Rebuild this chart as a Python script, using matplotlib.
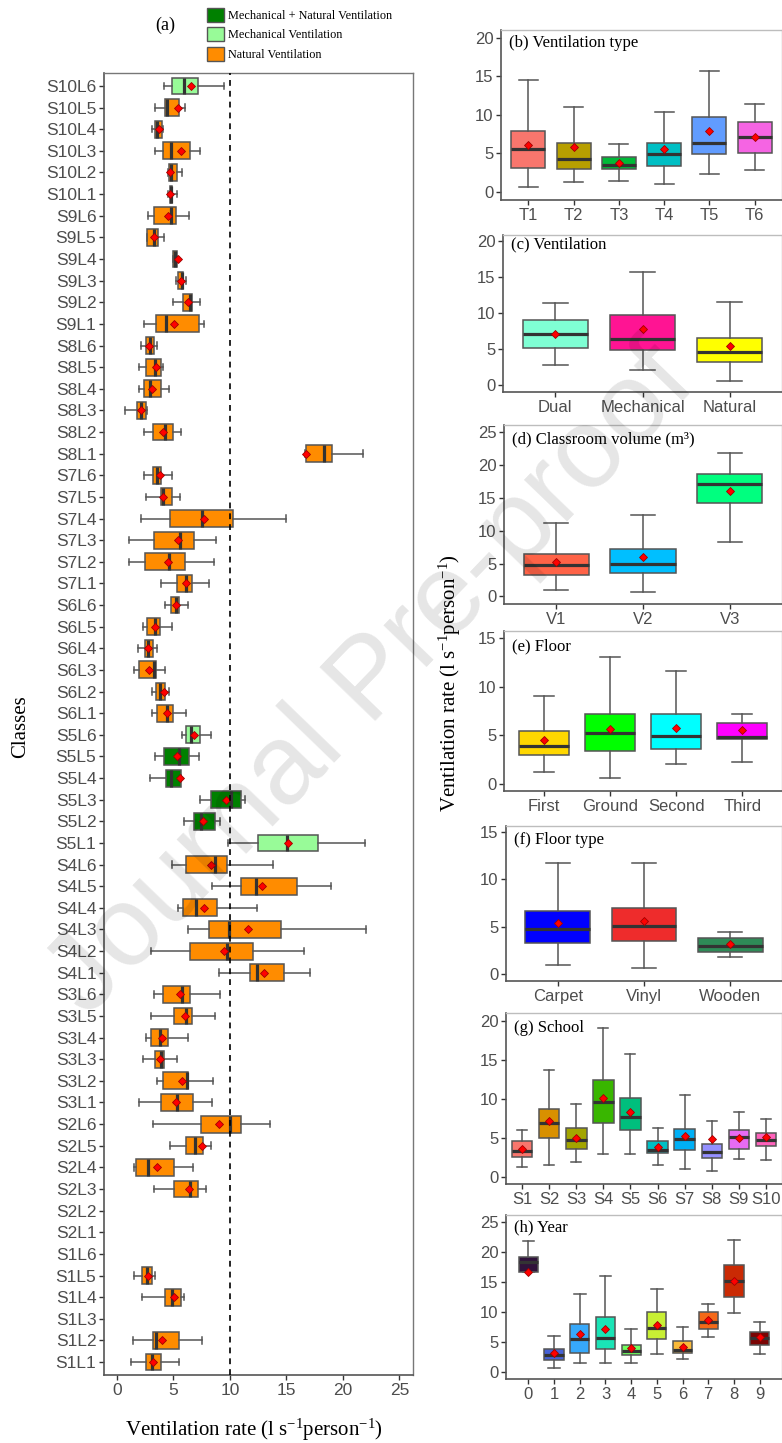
import matplotlib
matplotlib.use('Agg')
import matplotlib.pyplot as plt
from matplotlib.patches import Patch
import numpy as np

plt.rcParams['font.family'] = ['Liberation Sans', 'DejaVu Sans']
plt.rcParams['mathtext.fontset'] = 'custom'
plt.rcParams['mathtext.rm'] = 'Liberation Serif'
plt.rcParams['mathtext.it'] = 'Liberation Serif:italic'

nan = np.nan

# ---- panel (a): ventilation rate per class (top to bottom) ----
classes = ['S10L6', 'S10L5', 'S10L4', 'S10L3', 'S10L2', 'S10L1',
           'S9L6', 'S9L5', 'S9L4', 'S9L3', 'S9L2', 'S9L1',
           'S8L6', 'S8L5', 'S8L4', 'S8L3', 'S8L2', 'S8L1',
           'S7L6', 'S7L5', 'S7L4', 'S7L3', 'S7L2', 'S7L1',
           'S6L6', 'S6L5', 'S6L4', 'S6L3', 'S6L2', 'S6L1',
           'S5L6', 'S5L5', 'S5L4', 'S5L3', 'S5L2', 'S5L1',
           'S4L6', 'S4L5', 'S4L4', 'S4L3', 'S4L2', 'S4L1',
           'S3L6', 'S3L5', 'S3L4', 'S3L3', 'S3L2', 'S3L1',
           'S2L6', 'S2L5', 'S2L4', 'S2L3', 'S2L2', 'S2L1',
           'S1L6', 'S1L5', 'S1L4', 'S1L3', 'S1L2', 'S1L1']
class_vent = ['MV'] + ['NV'] * 29 + ['MV', 'MNV', 'MNV', 'MNV', 'MNV', 'MV'] + ['NV'] * 24
a_low = [4.19, 3.36, 3.07, 3.39, 4.55, 4.54, 2.77, 2.63, 4.97, 5.19, 4.93, 2.36,
         2.12, 1.98, 1.92, 0.74, 2.36, 16.65, 2.36, 2.60, 2.15, 1.09, 1.09, 3.86,
         4.22, 2.33, 1.83, 1.47, 3.07, 3.10, 5.72, 3.36, 2.95, 7.32, 5.96, 9.79,
         4.90, 8.38, 5.43, 6.28, 2.98, 9.03, 3.27, 2.98, 2.57, 2.27, 3.57, 1.92,
         3.22, 4.72, 1.53, 3.30, nan, nan, nan, 1.53, 2.24, nan, 1.45, 1.24]
a_q1 = [4.84, 4.28, 3.39, 4.10, 4.60, 4.66, 3.27, 2.68, 4.99, 5.43, 5.87, 3.48,
        2.54, 2.57, 2.42, 1.77, 3.22, 16.70, 3.19, 3.86, 4.66, 3.30, 2.48, 5.31,
        4.75, 2.68, 2.48, 1.95, 3.42, 3.57, 6.14, 4.16, 4.37, 8.35, 6.84, 12.45,
        6.14, 10.97, 5.84, 8.14, 6.49, 11.80, 4.10, 5.01, 3.04, 3.36, 4.04, 3.89,
        7.43, 6.08, 1.71, 5.07, nan, nan, nan, 2.18, 4.28, nan, 3.16, 2.60]
a_med = [5.93, 4.40, 3.51, 4.75, 4.75, 4.78, 4.78, 3.30, 5.13, 5.75, 6.46, 4.31,
         2.92, 3.36, 2.92, 2.09, 4.25, 18.32, 3.51, 4.10, 7.49, 5.55, 4.63, 6.14,
         5.19, 3.33, 2.74, 3.24, 3.83, 4.42, 6.58, 5.52, 4.75, 10.06, 7.40, 15.07,
         8.64, 12.33, 6.96, 9.91, 9.71, 12.39, 5.72, 6.08, 3.81, 3.92, 6.19, 5.34,
         10.03, 6.90, 2.71, 6.46, nan, nan, nan, 2.63, 4.90, nan, 3.48, 3.13]
a_q3 = [7.17, 5.49, 4.01, 6.49, 5.28, 4.90, 5.19, 3.66, 5.28, 5.87, 6.64, 7.23,
        3.24, 3.92, 3.86, 2.54, 4.93, 19.06, 3.92, 4.87, 10.29, 6.78, 5.99, 6.67,
        5.49, 3.83, 3.19, 3.42, 4.28, 4.93, 7.37, 6.40, 5.66, 11.00, 8.70, 17.79,
        9.73, 15.96, 8.82, 14.48, 12.06, 14.75, 6.49, 6.64, 4.54, 4.19, 6.25, 6.70,
        11.00, 7.64, 5.07, 7.20, nan, nan, nan, 3.07, 5.69, nan, 5.46, 3.86]
a_high = [9.47, 6.02, 4.10, 7.37, 5.75, 5.34, 6.37, 4.16, 5.30, 6.08, 7.35, 7.70,
          3.51, 4.04, 4.57, 2.63, 5.63, 21.80, 4.84, 5.58, 14.96, 8.73, 8.55, 8.11,
          6.25, 4.87, 3.51, 4.25, 4.60, 6.08, 8.32, 7.26, 5.66, 11.36, 9.12, 21.95,
          13.83, 18.94, 12.36, 22.01, 16.52, 17.05, 9.14, 8.70, 6.28, 5.34, 8.53, 8.38,
          13.54, 8.35, 6.73, 7.88, nan, nan, nan, 3.36, 5.96, nan, 7.55, 5.49]
a_mean = [6.58, 5.43, 3.75, 5.63, 4.69, 4.72, 4.48, 3.30, 5.43, 5.69, 6.25, 5.01,
          2.83, 3.48, 3.10, 2.15, 4.07, 16.73, 3.78, 4.10, 7.73, 5.37, 4.54, 6.08,
          5.19, 3.36, 2.77, 2.86, 4.13, 4.42, 6.78, 5.34, 5.60, 9.68, 7.58, 15.16,
          8.35, 12.86, 7.73, 11.62, 9.44, 13.04, 5.58, 6.05, 4.01, 3.81, 5.72, 5.22,
          9.06, 7.52, 3.57, 6.34, nan, nan, nan, 2.77, 5.01, nan, 3.95, 3.22]
vent_colors = {'MNV': '#008000', 'MV': '#98FB98', 'NV': '#FF8C00'}
vent_names = {'MNV': 'Mechanical + Natural Ventilation',
              'MV': 'Mechanical Ventilation', 'NV': 'Natural Ventilation'}

# ---- panel (b) ventilation type ----
b_cat = ['T1', 'T2', 'T3', 'T4', 'T5', 'T6']
b_low = [0.69, 1.25, 1.42, 1.03, 2.33, 2.89]
b_q1 = [3.15, 3.02, 2.97, 3.41, 4.87, 5.04]
b_med = [5.52, 4.27, 3.45, 4.87, 6.34, 7.11]
b_q3 = [7.89, 6.34, 4.57, 6.34, 9.74, 9.01]
b_high = [14.57, 11.03, 6.16, 10.43, 15.69, 11.38]
b_mean = [6.03, 5.82, 3.71, 5.52, 7.93, 7.11]
b_col = ['#F8766D', '#B79F00', '#00BA38', '#00BFC4', '#619CFF', '#F564E3']

# ---- panel (c) ventilation ----
c_cat = ['Dual', 'Mechanical', 'Natural']
c_low = [2.80, 2.10, 0.56]
c_q1 = [5.05, 4.81, 3.13]
c_med = [7.06, 6.40, 4.49]
c_q3 = [9.02, 9.72, 6.54]
c_high = [11.36, 15.70, 11.54]
c_mean = [7.06, 7.80, 5.42]
c_col = ['#7FFFD4', '#FF1493', '#FFFF00']

# ---- panel (d) classroom volume ----
d_cat = ['V1', 'V2', 'V3']
d_low = [1.01, 0.66, 8.30]
d_q1 = [3.29, 3.54, 14.28]
d_med = [4.71, 4.96, 17.06]
d_q3 = [6.43, 7.19, 18.63]
d_high = [11.24, 12.35, 21.90]
d_mean = [5.27, 5.97, 16.00]
d_col = ['#FF6347', '#00BFFF', '#00FF7F']

# ---- panel (e) floor ----
e_cat = ['First', 'Ground', 'Second', 'Third']
e_low = [1.23, 0.65, 2.08, 2.25]
e_q1 = [3.04, 3.45, 3.65, 4.64]
e_med = [3.96, 5.29, 4.95, 4.81]
e_q3 = [5.49, 7.20, 7.20, 6.28]
e_high = [9.08, 13.00, 11.60, 7.17]
e_mean = [4.57, 5.70, 5.80, 5.60]
e_col = ['#FFD700', '#00FF00', '#00FFFF', '#FF00FF']

# ---- panel (f) floor type ----
f_cat = ['Carpet', 'Vinyl', 'Wooden']
f_low = [0.94, 0.63, 1.82]
f_q1 = [3.25, 3.53, 2.38]
f_med = [4.76, 5.07, 2.97]
f_q3 = [6.64, 6.93, 3.85]
f_high = [11.68, 11.75, 4.48]
f_mean = [5.35, 5.59, 3.18]
f_col = ['#0000FF', '#EE2C2C', '#2E8B57']

# ---- panel (g) school ----
g_cat = ['S1', 'S2', 'S3', 'S4', 'S5', 'S6', 'S7', 'S8', 'S9', 'S10']
g_low = [1.20, 1.50, 1.89, 2.91, 2.91, 1.46, 1.03, 0.69, 2.31, 2.10]
g_q1 = [2.49, 5.01, 3.60, 6.90, 6.04, 3.04, 3.39, 2.40, 3.51, 3.99]
g_med = [3.26, 6.86, 4.67, 9.56, 7.63, 3.47, 4.84, 3.17, 5.10, 4.76]
g_q3 = [4.54, 8.62, 6.22, 12.39, 10.07, 4.54, 6.17, 4.24, 6.04, 5.57]
g_high = [6.04, 13.67, 9.30, 19.07, 15.73, 6.22, 10.50, 7.16, 8.32, 7.42]
g_mean = [3.60, 7.12, 4.97, 10.07, 8.27, 3.81, 5.19, 4.84, 4.97, 5.06]
g_col = ['#F8766D', '#D89000', '#A3A500', '#39B600', '#00BF7D',
         '#00BFC4', '#00B0F6', '#9590FF', '#E76BF3', '#FF62BC']

# ---- panel (h) year ----
h_year = [0, 1, 2, 3, 4, 5, 6, 7, 8, 9]
h_low = [16.67, 0.67, 1.50, 1.50, 1.39, 2.89, 2.11, 5.83, 9.78, 2.89]
h_q1 = [16.67, 2.00, 3.06, 3.72, 2.72, 5.39, 3.06, 7.17, 12.44, 4.39]
h_med = [18.22, 2.78, 5.50, 5.67, 3.39, 7.33, 3.56, 8.33, 15.06, 5.61]
h_q3 = [19.06, 3.83, 7.89, 9.11, 4.50, 10.00, 5.11, 10.00, 17.78, 6.67]
h_high = [21.83, 6.00, 13.00, 15.94, 7.11, 13.83, 7.39, 11.33, 22.00, 8.28]
h_mean = [16.67, 3.06, 6.33, 7.06, 3.89, 7.83, 4.11, 8.56, 15.11, 5.72]

W, H = 782, 1443
fig = plt.figure(figsize=(W / 100, H / 100), dpi=100)


def px_axes(l, t, r, b):
    return fig.add_axes([l / W, 1 - b / H, (r - l) / W, (b - t) / H])


def draw_boxes(ax, pos, low, q1, med, q3, high, mean, colors, width, capw, orient='vertical'):
    stats, keep_pos, keep_col = [], [], []
    for p, lo, a, m, b, hi, mu, c in zip(pos, low, q1, med, q3, high, mean, colors):
        if np.isnan(m):
            continue
        stats.append(dict(whislo=lo, q1=a, med=m, q3=b, whishi=hi, mean=mu, fliers=[]))
        keep_pos.append(p)
        keep_col.append(c)
    bp = ax.bxp(stats, positions=keep_pos, widths=width, capwidths=capw,
                orientation=orient, patch_artist=True, showmeans=True,
                showfliers=False, manage_ticks=False,
                boxprops=dict(edgecolor='#555555', linewidth=1.1),
                whiskerprops=dict(color='#555555', linewidth=1.1),
                capprops=dict(color='#555555', linewidth=1.1),
                medianprops=dict(color='#333333', linewidth=2.3, solid_capstyle='butt'),
                meanprops=dict(marker='D', markerfacecolor='red', markeredgecolor='#A00000',
                               markeredgewidth=0.6, markersize=4.0))
    for patch, c in zip(bp['boxes'], keep_col):
        patch.set_facecolor(c)
    for m in bp['means']:
        m.set_zorder(5)


def style_axes(ax, dark_all=False):
    for s in ['left', 'bottom']:
        ax.spines[s].set_color('#555555')
        ax.spines[s].set_linewidth(1.2)
    for s in ['top', 'right']:
        ax.spines[s].set_color('#777777' if dark_all else '#BDBDBD')
        ax.spines[s].set_linewidth(1.0)
    ax.tick_params(colors='#333333', labelcolor='#4D4D4D', length=3.5, width=1.0,
                   labelsize=12, pad=2)


# panel (a)
axa = px_axes(104, 73, 413, 1375)
ypos = np.arange(len(classes))
draw_boxes(axa, ypos, a_low, a_q1, a_med, a_q3, a_high, a_mean,
           [vent_colors[v] for v in class_vent], 0.78, 0.3, orient='horizontal')
axa.axvline(10, color='black', linestyle=(0, (3.5, 3)), linewidth=1.2, zorder=6)
axa.set_yticks(ypos)
axa.set_yticklabels(classes)
axa.set_ylim(len(classes) - 0.4, -0.6)
axa.set_xticks([0, 5, 10, 15, 20, 25])
axa.set_xlim(-1.15, 26.2)
style_axes(axa, dark_all=True)
axa.tick_params(labelsize=12.5)

serif = ['Liberation Serif', 'DejaVu Serif']
fig.text(165 / W, 1 - 25 / H, '(a)', family=serif, fontsize=13, ha='center', va='center')
fig.text(21 / W, 1 - 727 / H, 'Classes', family=serif, fontsize=15, rotation=90,
         ha='center', va='center')
vlabel = r'Ventilation rate (l s$^{-1}$person$^{-1}$)'
fig.text(254 / W, 1 - 1430 / H, vlabel, family=serif, fontsize=15, ha='center', va='center')
fig.text(450 / W, 1 - 683 / H, vlabel, family=serif, fontsize=15, rotation=90,
         ha='center', va='center')

handles = [Patch(facecolor=vent_colors[k], edgecolor='#555555', label=vent_names[k])
           for k in ['MNV', 'MV', 'NV']]
fig.legend(handles=handles, loc='upper left', bbox_to_anchor=(198 / W, 1 + 1 / H),
           frameon=False, prop=dict(family=serif, size=8.8), handlelength=1.4,
           handleheight=1.4, labelspacing=0.45, handletextpad=0.35, borderpad=0.2)

# right column panels
panels = [
    ((501, 30, 782, 200), b_cat, b_low, b_q1, b_med, b_q3, b_high, b_mean, b_col,
     (0.4, 6.6), (-1.04, 21.0), [0, 5, 10, 15, 20], '(b) Ventilation type', 0.42, 13),
    ((503, 235, 782, 392), c_cat, c_low, c_q1, c_med, c_q3, c_high, c_mean, c_col,
     (0.4, 3.6), (-1.03, 20.9), [0, 5, 10, 15, 20], '(c) Ventilation', 0.28, 9),
    ((504, 425, 782, 604), d_cat, d_low, d_q1, d_med, d_q3, d_high, d_mean, d_col,
     (0.4, 3.6), (-1.16, 26.1), [0, 5, 10, 15, 20, 25], '(d) Classroom volume (m³)', 0.28, 14),
    ((504, 631, 782, 791), e_cat, e_low, e_q1, e_med, e_q3, e_high, e_mean, e_col,
     (0.4, 4.6), (-0.69, 15.7), [0, 5, 10, 15], '(e) Floor', 0.3, 15),
    ((506, 826, 782, 981), f_cat, f_low, f_q1, f_med, f_q3, f_high, f_mean, f_col,
     (0.4, 3.6), (-0.70, 15.6), [0, 5, 10, 15], '(f) Floor type', 0.28, 14),
    ((506, 1013, 782, 1184), g_cat, g_low, g_q1, g_med, g_q3, g_high, g_mean, g_col,
     (0.4, 10.6), (-0.94, 21.0), [0, 5, 10, 15, 20], '(g) School', 0.37, 15),
]

for rect, cats, lo, q1, md, q3, hi, mu, cols, xl, yl, yt, title, capw, toff in panels:
    ax = px_axes(*rect)
    pos = np.arange(1, len(cats) + 1)
    draw_boxes(ax, pos, lo, q1, md, q3, hi, mu, cols, 0.75, capw)
    ax.set_xticks(pos)
    ax.set_xticklabels(cats)
    ax.set_xlim(*xl)
    ax.set_ylim(*yl)
    ax.set_yticks(yt)
    style_axes(ax)
    ax.annotate(title, xy=(0, 1), xycoords='axes fraction', xytext=(8, -toff),
                textcoords='offset pixels', family=serif, fontsize=12, va='center')

# panel (h)
axh = px_axes(506, 1215, 782, 1379)
cmap = plt.get_cmap('turbo')
h_col = [cmap(y / 9) for y in h_year]
draw_boxes(axh, h_year, h_low, h_q1, h_med, h_q3, h_high, h_mean, h_col, 0.75, 0.45)
axh.set_xticks(h_year)
axh.set_xlim(-0.87, 9.87)
axh.set_ylim(-1.22, 26.1)
axh.set_yticks([0, 5, 10, 15, 20, 25])
style_axes(axh)
axh.annotate('(h) Year', xy=(0, 1), xycoords='axes fraction', xytext=(8, -12),
             textcoords='offset pixels', family=serif, fontsize=12, va='center')

# watermark
fig.text(372 / W, 1 - 682 / H, 'Journal Pre-proof', fontsize=82, rotation=46,
         color='black', alpha=0.1, ha='center', va='center', zorder=10)

fig.savefig('out.png', dpi=100)
